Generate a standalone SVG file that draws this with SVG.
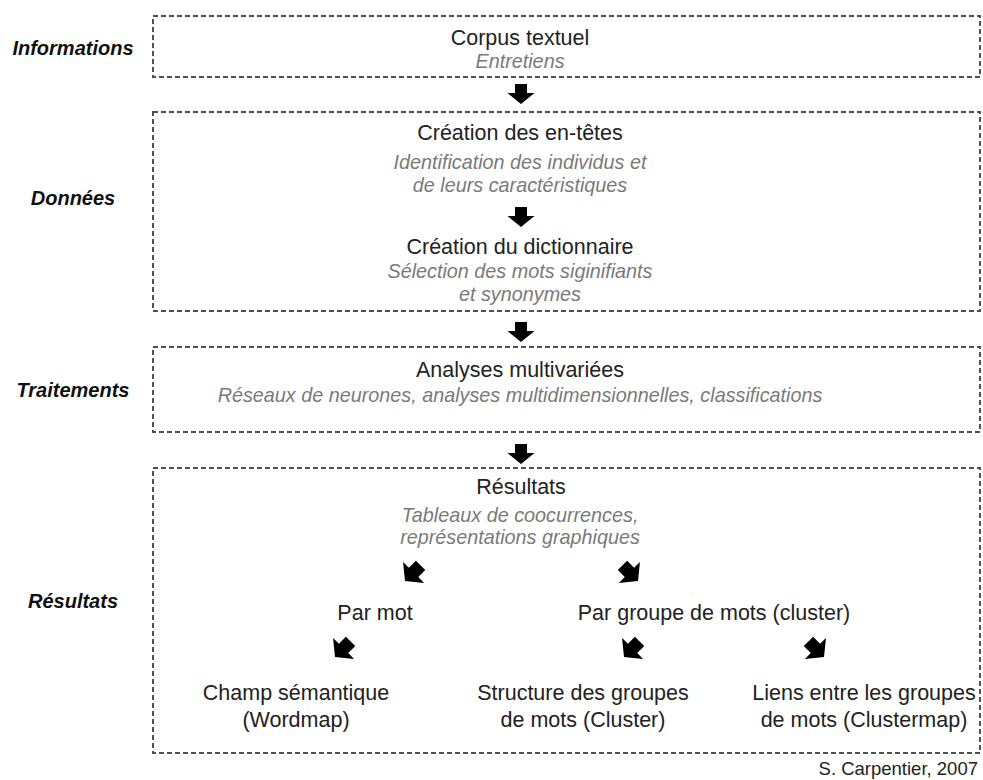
<svg xmlns="http://www.w3.org/2000/svg" xmlns:xlink="http://www.w3.org/1999/xlink" width="983" height="780" viewBox="0 0 983 780">
<style>
.box{fill:none;stroke:#505050;stroke-width:2;stroke-dasharray:5,3}
.lbl{font-family:"Liberation Sans",Arial,sans-serif;font-size:20px;font-weight:bold;font-style:italic;fill:#111;text-anchor:middle}
.t{font-family:"Liberation Sans",Arial,sans-serif;font-size:21.5px;fill:#222;text-anchor:middle}
.s{font-family:"Liberation Sans",Arial,sans-serif;font-size:19.8px;font-style:italic;fill:#7a7a7a;text-anchor:middle}
.c{font-family:"Liberation Sans",Arial,sans-serif;font-size:18.5px;fill:#222;text-anchor:end}
.a{fill:#000}
</style>
<defs>
<path id="arr" d="M-6,-20 H6 V-11 H13.5 L0,0 L-13.5,-11 H-6 Z"/>
</defs>
<rect width="983" height="780" fill="#fff"/>
<g id="labels">
<text class="lbl" x="73" y="55">Informations</text>
<text class="lbl" x="73" y="205">Données</text>
<text class="lbl" x="73" y="397">Traitements</text>
<text class="lbl" x="73" y="608">Résultats</text>
</g>
<g id="box-informations">
<rect class="box" x="153" y="16" width="827" height="61"/>
<text class="t" x="520" y="45">Corpus textuel</text>
<text class="s" x="520" y="68">Entretiens</text>
</g>
<g id="box-donnees">
<rect class="box" x="153" y="112" width="827" height="199"/>
</g>
<g id="node-entetes">
<text class="t" x="520" y="140">Création des en-têtes</text>
<text class="s" x="520" y="169">Identification des individus et</text>
<text class="s" x="520" y="192">de leurs caractéristiques</text>
</g>
<g id="node-dictionnaire">
<text class="t" x="520" y="254">Création du dictionnaire</text>
<text class="s" x="520" y="278">Sélection des mots siginifiants</text>
<text class="s" x="520" y="301">et synonymes</text>
</g>
<g id="box-traitements">
<rect class="box" x="153" y="347" width="827" height="85"/>
<text class="t" x="520" y="377">Analyses multivariées</text>
<text class="s" x="520" y="402">Réseaux de neurones, analyses multidimensionnelles, classifications</text>
</g>
<g id="box-resultats">
<rect class="box" x="153" y="468" width="827" height="285"/>
</g>
<g id="node-resultats">
<text class="t" x="521" y="494">Résultats</text>
<text class="s" x="520" y="522">Tableaux de coocurrences,</text>
<text class="s" x="520" y="544">représentations graphiques</text>
</g>
<g id="node-parmot">
<text class="t" x="375" y="620">Par mot</text>
</g>
<g id="node-pargroupe">
<text class="t" x="714" y="620">Par groupe de mots (cluster)</text>
</g>
<g id="node-champ">
<text class="t" x="296" y="700">Champ sémantique</text>
<text class="t" x="296" y="727">(Wordmap)</text>
</g>
<g id="node-structure">
<text class="t" x="583" y="700">Structure des groupes</text>
<text class="t" x="583" y="727">de mots (Cluster)</text>
</g>
<g id="node-liens">
<text class="t" x="864" y="700">Liens entre les groupes</text>
<text class="t" x="864" y="727">de mots (Clustermap)</text>
</g>
<g id="connectors" class="a">
<use xlink:href="#arr" href="#arr" transform="translate(521,104)"/>
<use xlink:href="#arr" href="#arr" transform="translate(521,227)"/>
<use xlink:href="#arr" href="#arr" transform="translate(521,342)"/>
<use xlink:href="#arr" href="#arr" transform="translate(521,464)"/>
<use xlink:href="#arr" href="#arr" transform="translate(405,581) rotate(45) scale(1.1)"/>
<use xlink:href="#arr" href="#arr" transform="translate(638,581) rotate(-45) scale(1.1)"/>
<use xlink:href="#arr" href="#arr" transform="translate(335,657) rotate(45) scale(1.1)"/>
<use xlink:href="#arr" href="#arr" transform="translate(624,657) rotate(45) scale(1.1)"/>
<use xlink:href="#arr" href="#arr" transform="translate(824,657) rotate(-45) scale(1.1)"/>
</g>
<text class="c" x="978" y="775">S. Carpentier, 2007</text>
</svg>
